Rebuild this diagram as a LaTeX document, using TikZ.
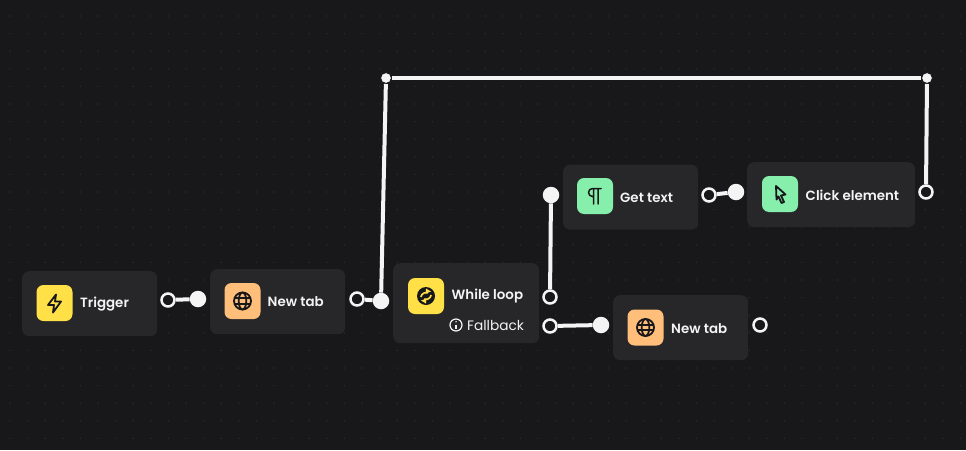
\documentclass[tikz,border=0pt]{standalone}
\usepackage{fontspec}
\setmainfont[BoldFont={Poppins SemiBold}]{Poppins}
\usetikzlibrary{positioning,calc}
\definecolor{canvas}{RGB}{24,24,27}
\definecolor{griddot}{RGB}{44,44,48}
\definecolor{card}{RGB}{39,39,42}
\definecolor{wire}{RGB}{244,244,245}
\definecolor{ink}{RGB}{24,24,27}
\definecolor{sunny}{RGB}{255,224,70}
\definecolor{peach}{RGB}{255,190,122}
\definecolor{mint}{RGB}{134,239,172}
\begin{document}
\begin{tikzpicture}[
  x=1pt,y=-1pt,
  card/.style={fill=card,rounded corners=7pt,minimum height=65pt,anchor=north west,inner sep=0pt},
  iconbox/.style={rounded corners=7pt,minimum size=36pt,inner sep=0pt},
  title/.style={text=wire,font=\bfseries\fontsize{13.4}{15}\selectfont,anchor=west,inner sep=0pt},
  portout/.style={circle,draw=wire,fill=canvas,line width=2.5pt,minimum size=13pt,inner sep=0pt},
  portin/.style={circle,fill=wire,minimum size=16.5pt,inner sep=0pt},
  cornerdot/.style={circle,draw=canvas,fill=wire,line width=1pt,minimum size=11pt,inner sep=0pt},
  link/.style={draw=wire,line width=4pt},
  glyph/.style={draw=ink,line width=1.8pt,line join=round,line cap=round},
]
\useasboundingbox (0,0) rectangle (966,450);
\fill[canvas] (0,0) rectangle (966,450);
% ---- dotted canvas ----
\foreach \i in {0,...,54}
  \foreach \j in {0,...,25}
    \fill[griddot] ({10+17.6*\i},{16+17.6*\j}) circle (0.8);
% ---- cards ----
\node[card,minimum width=135pt] (trigger) at (22,271) {};
\node[card,minimum width=135pt] (tabone) at (210,269) {};
\node[card,minimum width=146pt,minimum height=80pt] (while) at (393,263) {};
\node[card,minimum width=135pt] (gettext) at (563,164.500) {};
\node[card,minimum width=168pt] (click) at (747,162) {};
\node[card,minimum width=135pt] (tabtwo) at (613,295) {};
% ---- icon squares ----
\node[iconbox,fill=sunny] (triggericon) at (54.500,303) {};
\node[iconbox,fill=peach] (taboneicon) at (242.500,301) {};
\node[iconbox,fill=sunny] (whileicon) at (426,296) {};
\node[iconbox,fill=mint] (gettexticon) at (595,196) {};
\node[iconbox,fill=mint] (clickicon) at (780,194) {};
\node[iconbox,fill=peach] (tabtwoicon) at (645.500,327.500) {};
% ---- labels ----
\node[title] (triggerlabel) at (80,304) {Trigger};
\node[title] (tabonelabel) at (267.500,302) {New tab};
\node[title] (whilelabel) at (451.500,296.500) {While loop};
\node[title] (gettextlabel) at (620,197.500) {Get text};
\node[title] (clicklabel) at (805.500,195.500) {Click element};
\node[title] (tabtwolabel) at (671,328.500) {New tab};
\node[text=wire,font=\fontsize{13.7}{15}\selectfont,anchor=west,inner sep=0pt] (fallback) at (467,325.500) {Fallback};
% ---- icons ----
\draw[glyph] (56,294.500) -- (48,305) -- (54,305) -- (53,312.500) -- (61,301.500) -- (55,301.500) -- cycle;
\foreach \cx/\cy in {242.500/301,645.500/327.500}{
  \draw[glyph,line cap=butt] (\cx,\cy) circle (8.500);
  \draw[glyph,line cap=butt] (\cx,\cy) ellipse (3.800 and 8.500);
  \draw[glyph,line cap=butt] (\cx-8.300,\cy-2.800) -- (\cx+8.300,\cy-2.800);
  \draw[glyph,line cap=butt] (\cx-8.300,\cy+2.800) -- (\cx+8.300,\cy+2.800);
}
\fill[ink] (426,296) circle (9);
\draw[sunny,line width=1.600pt] (420.800,297) arc (190:290:5.300);
\draw[sunny,line width=1.600pt] (431.200,295) arc (10:110:5.300);
\fill[sunny] (431,291.500) -- (426,288.500) -- (425.500,293.500) -- cycle;
\fill[sunny] (421,300.500) -- (426,303.500) -- (426.500,298.500) -- cycle;
\draw[glyph,line width=1.500pt] (593.500,204) -- (593.500,188.500) (598,204) -- (598,188.500) (601,188.500) -- (592.500,188.500) arc (-90:-270:4) -- (593.500,196.500);
\draw[glyph,line width=1.800pt] (776,186) -- (785.500,194.500) -- (781,195.500) -- (784,202) -- (781.500,203) -- (778.500,196.500) -- (776.500,199.500) -- cycle;
\draw[wire,line width=1.200pt] (456,325) circle (6);
\draw[wire,line width=1.200pt] (456,324.500) -- (456,328.500);
\fill[wire] (456,321.800) circle (0.800);
% ---- ports ----
\node[portout] (triggerout) at (168,300) {};
\node[portin] (tabonein) at (198,299) {};
\node[portout] (taboneout) at (357,299) {};
\node[portin] (whilein) at (381,301) {};
\node[portout] (whileout) at (550,297) {};
\node[portout] (fallbackout) at (550,326) {};
\node[portin] (tabtwoin) at (601,325) {};
\node[portout] (tabtwoout) at (760,325) {};
\node[portin] (gettextin) at (551,195) {};
\node[portout] (gettextout) at (709,195) {};
\node[portin] (clickin) at (736,192) {};
\node[portout] (clickout) at (926,192) {};
\node[cornerdot] (bendleft) at (386,78) {};
\node[cornerdot] (bendright) at (927,78) {};
% ---- links ----
\draw[link] (triggerout) -- (tabonein);
\draw[link] (taboneout) -- (whilein);
\draw[link] (whilein) -- (bendleft);
\draw[link] (bendleft) -- (bendright);
\draw[link] (bendright) -- (clickout);
\draw[link] (whileout) -- (gettextin);
\draw[link] (fallbackout) -- (tabtwoin);
\draw[link] (gettextout) -- (clickin);
\end{tikzpicture}
\end{document}
